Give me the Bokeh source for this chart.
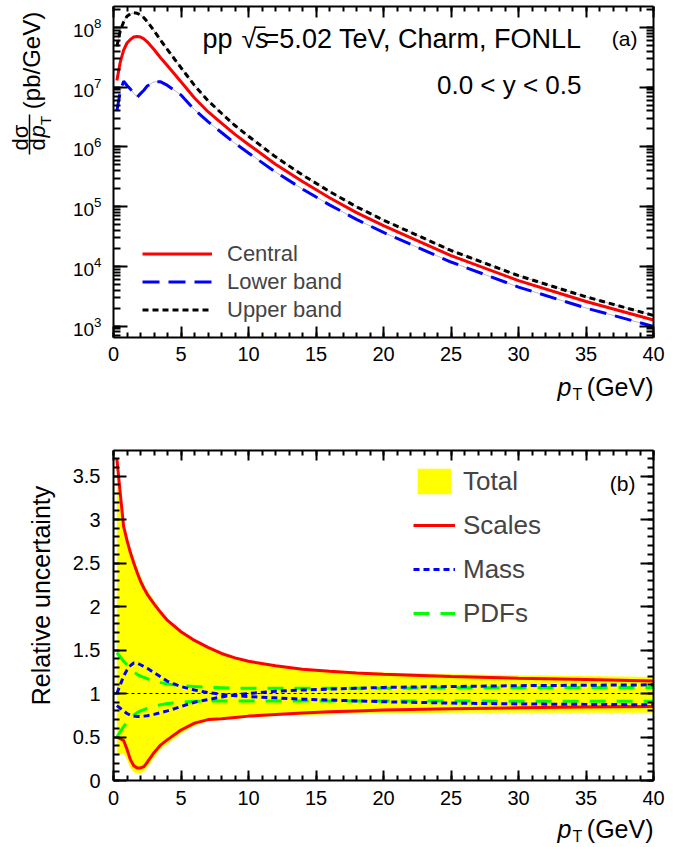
import math
from bokeh.plotting import figure
from bokeh.layouts import column, row
from bokeh.models import (Range1d, FixedTicker, LinearAxis, LogAxis, Label, Legend,
                          LegendItem, Span, CustomJSTickFormatter)
from bokeh.embed import file_html
from bokeh.resources import INLINE

FONT = "Liberation Sans"

# ---------------- data ----------------
pt = [0.25, 0.5, 0.75, 1.0, 1.25, 1.5, 1.75, 2.0, 2.25, 2.5, 3.0, 3.5, 4, 5, 6, 7, 8, 9,
      10, 12, 14, 16, 18, 20, 25, 30, 35, 40]

# panel (a): d sigma / d pT  (pb/GeV)
central = [1.29e7, 2.63e7, 4.17e7, 5.50e7, 6.31e7, 6.92e7, 7.08e7, 6.92e7, 6.46e7, 5.75e7,
           4.27e7, 3.09e7, 2.29e7, 1.23e7, 6.61e6, 3.89e6, 2.51e6, 1.62e6, 1.10e6, 5.13e5,
           2.63e5, 1.41e5, 7.94e4, 4.79e4, 1.51e4, 5.75e3, 2.57e3, 1.26e3]
upper = [4.82e7, 8.78e7, 1.24e8, 1.55e8, 1.69e8, 1.77e8, 1.73e8, 1.63e8, 1.46e8, 1.26e8,
         8.84e7, 6.06e7, 4.26e7, 2.12e7, 1.07e7, 5.95e6, 3.66e6, 2.28e6, 1.51e6, 6.82e5,
         3.39e5, 1.79e5, 9.93e4, 5.94e4, 1.84e4, 6.96e3, 3.08e3, 1.50e3]
lower = [4.0e6, 8.5e6, 1.26e7, 1.07e7, 9.3e6, 7.9e6, 6.8e6, 7.8e6, 8.9e6, 1.05e7,
         1.23e7, 1.23e7, 1.07e7, 7.4e6, 4.2e6, 2.65e6, 1.74e6, 1.15e6, 7.92e5, 3.80e5,
         1.97e5, 1.07e5, 6.11e4, 3.69e4, 1.18e4, 4.49e3, 2.00e3, 9.83e2]

# panel (b): relative uncertainties
total_up = [3.74, 3.34, 2.97, 2.81, 2.68, 2.56, 2.45, 2.35, 2.26, 2.19, 2.07, 1.96, 1.86,
            1.72, 1.62, 1.53, 1.46, 1.41, 1.37, 1.33, 1.29, 1.27, 1.25, 1.24, 1.22, 1.21,
            1.20, 1.19]
total_dn = [0.28, 0.30, 0.31, 0.24, 0.15, 0.095, 0.08, 0.083, 0.10, 0.15, 0.26, 0.36, 0.42,
            0.54, 0.63, 0.68, 0.695, 0.71, 0.72, 0.74, 0.75, 0.76, 0.77, 0.77, 0.78, 0.78,
            0.78, 0.78]
scales_up = [3.70, 3.30, 2.92, 2.76, 2.62, 2.50, 2.39, 2.29, 2.21, 2.14, 2.03, 1.93, 1.84,
             1.71, 1.61, 1.53, 1.46, 1.41, 1.37, 1.32, 1.28, 1.255, 1.235, 1.22, 1.195,
             1.175, 1.16, 1.145]
scales_dn = [0.50, 0.48, 0.46, 0.36, 0.24, 0.17, 0.145, 0.145, 0.16, 0.21, 0.32, 0.41, 0.47,
             0.58, 0.66, 0.70, 0.71, 0.725, 0.74, 0.76, 0.775, 0.79, 0.80, 0.81, 0.825,
             0.835, 0.845, 0.85]
mass_a = [1.00, 1.10, 1.20, 1.27, 1.32, 1.35, 1.35, 1.33, 1.31, 1.29, 1.24, 1.19, 1.14,
          1.08, 1.04, 1.01, 0.99, 0.975, 0.965, 0.95, 0.935, 0.925, 0.915, 0.905, 0.89,
          0.88, 0.875, 0.87]
mass_b = [0.86, 0.83, 0.80, 0.77, 0.75, 0.74, 0.735, 0.735, 0.74, 0.745, 0.76, 0.78, 0.80,
          0.85, 0.90, 0.93, 0.96, 0.985, 1.00, 1.025, 1.04, 1.05, 1.06, 1.07, 1.08, 1.09,
          1.095, 1.10]
pdf_up = [1.47, 1.42, 1.37, 1.33, 1.29, 1.25, 1.22, 1.20, 1.185, 1.17, 1.145, 1.125, 1.11,
          1.09, 1.08, 1.07, 1.065, 1.06, 1.06, 1.06, 1.06, 1.06, 1.06, 1.06, 1.065, 1.065,
          1.07, 1.07]
pdf_dn = [0.50, 0.56, 0.62, 0.67, 0.71, 0.75, 0.78, 0.80, 0.815, 0.83, 0.855, 0.87, 0.885,
          0.90, 0.91, 0.915, 0.915, 0.915, 0.915, 0.915, 0.915, 0.915, 0.915, 0.915, 0.915,
          0.91, 0.91, 0.91]

x_major = [0, 5, 10, 15, 20, 25, 30, 35, 40]
x_minor = list(range(0, 41))
ya_major = [1e3, 1e4, 1e5, 1e6, 1e7, 1e8]
ya_minor = [k * 10 ** d for d in range(2, 9) for k in range(1, 10)]
yb_major = [0, 0.5, 1, 1.5, 2, 2.5, 3, 3.5]
yb_minor = [round(0.1 * i, 1) for i in range(0, 39)]

# ---------------- page geometry (pixels) ----------------
W, H = 686, 847
STRIP = 60               # left strip holding the rotated y titles
FL, FR = 113, 653        # frame left / right
A_TOP, A_BOT = 6, 337    # frame (a)
B_TOP, B_BOT = 450, 780  # frame (b)
A_END = 369              # bottom of figure (a) (tick labels included)
MID = 420                # split between the two blocks
B_END = 813
DEC = 59.7               # px per decade in (a)
Y8 = 27                  # pixel row of 1e8


def xa(px):
    return (px - FL) / 13.5


def ya(py):
    return 10 ** (8 - (py - Y8) / DEC)


def yb(py):
    return (B_BOT - py) / 87.0


def style_axis(ax, major, minor, maj_len, min_len, labels=True, size="20px", standoff=8):
    ax.ticker = FixedTicker(ticks=major, minor_ticks=minor)
    ax.major_tick_in = maj_len
    ax.major_tick_out = 0
    ax.minor_tick_in = min_len
    ax.minor_tick_out = 0
    ax.axis_line_width = 2
    ax.axis_line_color = "black"
    ax.major_tick_line_width = 2
    ax.minor_tick_line_width = 2
    ax.major_tick_line_color = "black"
    ax.minor_tick_line_color = "black"
    if labels:
        ax.major_label_text_font = FONT
        ax.major_label_text_font_size = size
        ax.major_label_text_color = "black"
        ax.major_label_standoff = standoff
    else:
        ax.formatter = CustomJSTickFormatter(code="return ''")
        ax.major_label_text_font_size = "0px"
        ax.major_label_standoff = 0


def lab(p, x, y, text, size, align="left", angle=0.0, style="normal"):
    """Text label, y is the vertical centre of the text box."""
    p.add_layout(Label(x=x, y=y, text=text, text_font=FONT, text_font_size=size,
                       text_align=align, text_baseline="middle", angle=angle,
                       text_font_style=style, text_color="black"))


def text_fig(x0, x1, y0, y1):
    """Blank figure whose data coordinates are page pixels (y downwards)."""
    f = figure(width=x1 - x0, height=y1 - y0, x_range=Range1d(x0, x1),
               y_range=Range1d(y1, y0), min_border=0, x_axis_location=None,
               y_axis_location=None, output_backend="svg", toolbar_location=None,
               frame_align=False)
    f.grid.visible = False
    f.outline_line_color = None
    f.background_fill_color = "white"
    f.border_fill_color = "white"
    return f


# ---------------- panel (a) ----------------
p1 = figure(frame_width=FR - FL, frame_height=A_BOT - A_TOP,
            min_border_left=FL - STRIP, min_border_right=W - FR,
            min_border_top=A_TOP, min_border_bottom=A_END - A_BOT,
            x_range=Range1d(0, 40),
            y_range=Range1d(ya(A_BOT), ya(A_TOP)),
            y_axis_type="log", output_backend="svg", toolbar_location=None,
            frame_align=False)
p1.grid.visible = False
p1.outline_line_color = None
p1.background_fill_color = "white"
p1.border_fill_color = "white"

style_axis(p1.xaxis[0], x_major, x_minor, 11, 5, size="20px", standoff=9)
style_axis(p1.yaxis[0], ya_major, ya_minor, 14, 7, size="19px", standoff=12)
ax_top = LinearAxis()
style_axis(ax_top, x_major, x_minor, 11, 5, labels=False)
p1.add_layout(ax_top, "above")
ax_right = LogAxis()
style_axis(ax_right, ya_major, ya_minor, 14, 7, labels=False)
p1.add_layout(ax_right, "right")

p1.line(pt, upper, line_color="#bdbdbd", line_width=1)
p1.line(pt, lower, line_color="#bdbdbd", line_width=1)
r_up = p1.line(pt, upper, line_color="black", line_width=3, line_dash="6 4")
r_lo = p1.line(pt, lower, line_color="blue", line_width=3, line_dash="17 9")
r_c = p1.line(pt, central, line_color="red", line_width=3)

leg1 = Legend(items=[LegendItem(label="Central", renderers=[r_c]),
                     LegendItem(label="Lower band", renderers=[r_lo]),
                     LegendItem(label="Upper band", renderers=[r_up])],
              location=(29, 14), glyph_width=70, glyph_height=27, label_height=27,
              spacing=1, padding=0, margin=0, label_standoff=15,
              label_text_font=FONT, label_text_font_size="22px",
              border_line_alpha=0, background_fill_alpha=0)
p1.add_layout(leg1)

lab(p1, xa(202), ya(38), "pp", "27px")
lab(p1, xa(241), ya(38), "\u221a", "27px")
lab(p1, xa(255), ya(38), "s", "27px", style="italic")
lab(p1, xa(255), ya(38), "\u203e", "27px")
lab(p1, xa(581), ya(38), "=5.02 TeV, Charm, FONLL", "27px", align="right")
lab(p1, xa(637), ya(38), "(a)", "21px", align="right")
lab(p1, xa(581), ya(84), "0.0 < y < 0.5", "26px", align="right")

# ---------------- panel (b) ----------------
p2 = figure(frame_width=FR - FL, frame_height=B_BOT - B_TOP,
            min_border_left=FL - STRIP, min_border_right=W - FR,
            min_border_top=B_TOP - MID, min_border_bottom=B_END - B_BOT,
            x_range=Range1d(0, 40), y_range=Range1d(0, yb(B_TOP)),
            output_backend="svg", toolbar_location=None, frame_align=False)
p2.grid.visible = False
p2.outline_line_color = None
p2.background_fill_color = "white"
p2.border_fill_color = "white"

style_axis(p2.xaxis[0], x_major, x_minor, 10, 5, size="20px", standoff=10)
p2.yaxis[0].formatter = CustomJSTickFormatter(code="return tick.toString()")
style_axis(p2.yaxis[0], yb_major, yb_minor, 13, 6, size="20px", standoff=13)
ax_top2 = LinearAxis()
style_axis(ax_top2, x_major, x_minor, 10, 5, labels=False)
p2.add_layout(ax_top2, "above")
ax_right2 = LinearAxis()
style_axis(ax_right2, yb_major, yb_minor, 13, 6, labels=False)
p2.add_layout(ax_right2, "right")

r_tot = p2.varea(x=pt, y1=total_dn, y2=total_up, fill_color="#ffff00", fill_alpha=1.0)
p2.add_layout(Span(location=1, dimension="width", line_color="black", line_width=1,
                   line_dash="3 3"))
r_sc = p2.line(pt, scales_up, line_color="red", line_width=3)
p2.line(pt, scales_dn, line_color="red", line_width=3)
r_pdf = p2.line(pt, pdf_up, line_color="#00ff00", line_width=3, line_dash="16 11")
p2.line(pt, pdf_dn, line_color="#00ff00", line_width=3, line_dash="16 11")
r_ms = p2.line(pt, mass_a, line_color="blue", line_width=3, line_dash="6 4")
p2.line(pt, mass_b, line_color="blue", line_width=3, line_dash="6 4")

leg2 = Legend(items=[LegendItem(label="Total", renderers=[r_tot]),
                     LegendItem(label="Scales", renderers=[r_sc]),
                     LegendItem(label="Mass", renderers=[r_ms]),
                     LegendItem(label="PDFs", renderers=[r_pdf])],
              location=(300, 151), glyph_width=42, glyph_height=32, label_height=32,
              spacing=12, padding=0, margin=0, label_standoff=8,
              label_text_font=FONT, label_text_font_size="26px",
              border_line_alpha=0, background_fill_alpha=0)
p2.add_layout(leg2)

lab(p2, xa(635), yb(483), "(b)", "21px", align="right")

# ---------------- title strips (page-pixel coordinates) ----------------
half = math.pi / 2

tL1 = text_fig(0, STRIP, 0, MID)
lab(tL1, 31, 60, "(pb/GeV)", "24px", align="center", angle=half)
lab(tL1, 20, 137, "d\u03c3", "22px", align="center", angle=half)
lab(tL1, 37, 144, "d", "22px", align="center", angle=half)
lab(tL1, 37, 131, "p", "22px", align="center", angle=half, style="italic")
lab(tL1, 45, 120, "T", "15px", align="center", angle=half)
tL1.segment(x0=[29], y0=[114], x1=[29], y1=[154], line_color="black", line_width=1.5)

tB1 = text_fig(STRIP, W, A_END, MID)
lab(tB1, 653, 386, "(GeV)", "25px", align="right")
lab(tB1, 557, 386, "p", "25px", style="italic")
lab(tB1, 572, 394, "T", "16px")

tL2 = text_fig(0, STRIP, MID, H)
lab(tL2, 40, 595, "Relative uncertainty", "25px", align="center", angle=half)

tB2 = text_fig(STRIP, W, B_END, H)
lab(tB2, 653, 828, "(GeV)", "25px", align="right")
lab(tB2, 557, 828, "p", "25px", style="italic")
lab(tB2, 572, 836, "T", "16px")

layout = column(row(tL1, column(p1, tB1, spacing=0), spacing=0),
                row(tL2, column(p2, tB2, spacing=0), spacing=0),
                spacing=0)
open("out.html", "w").write(file_html(layout, INLINE))
